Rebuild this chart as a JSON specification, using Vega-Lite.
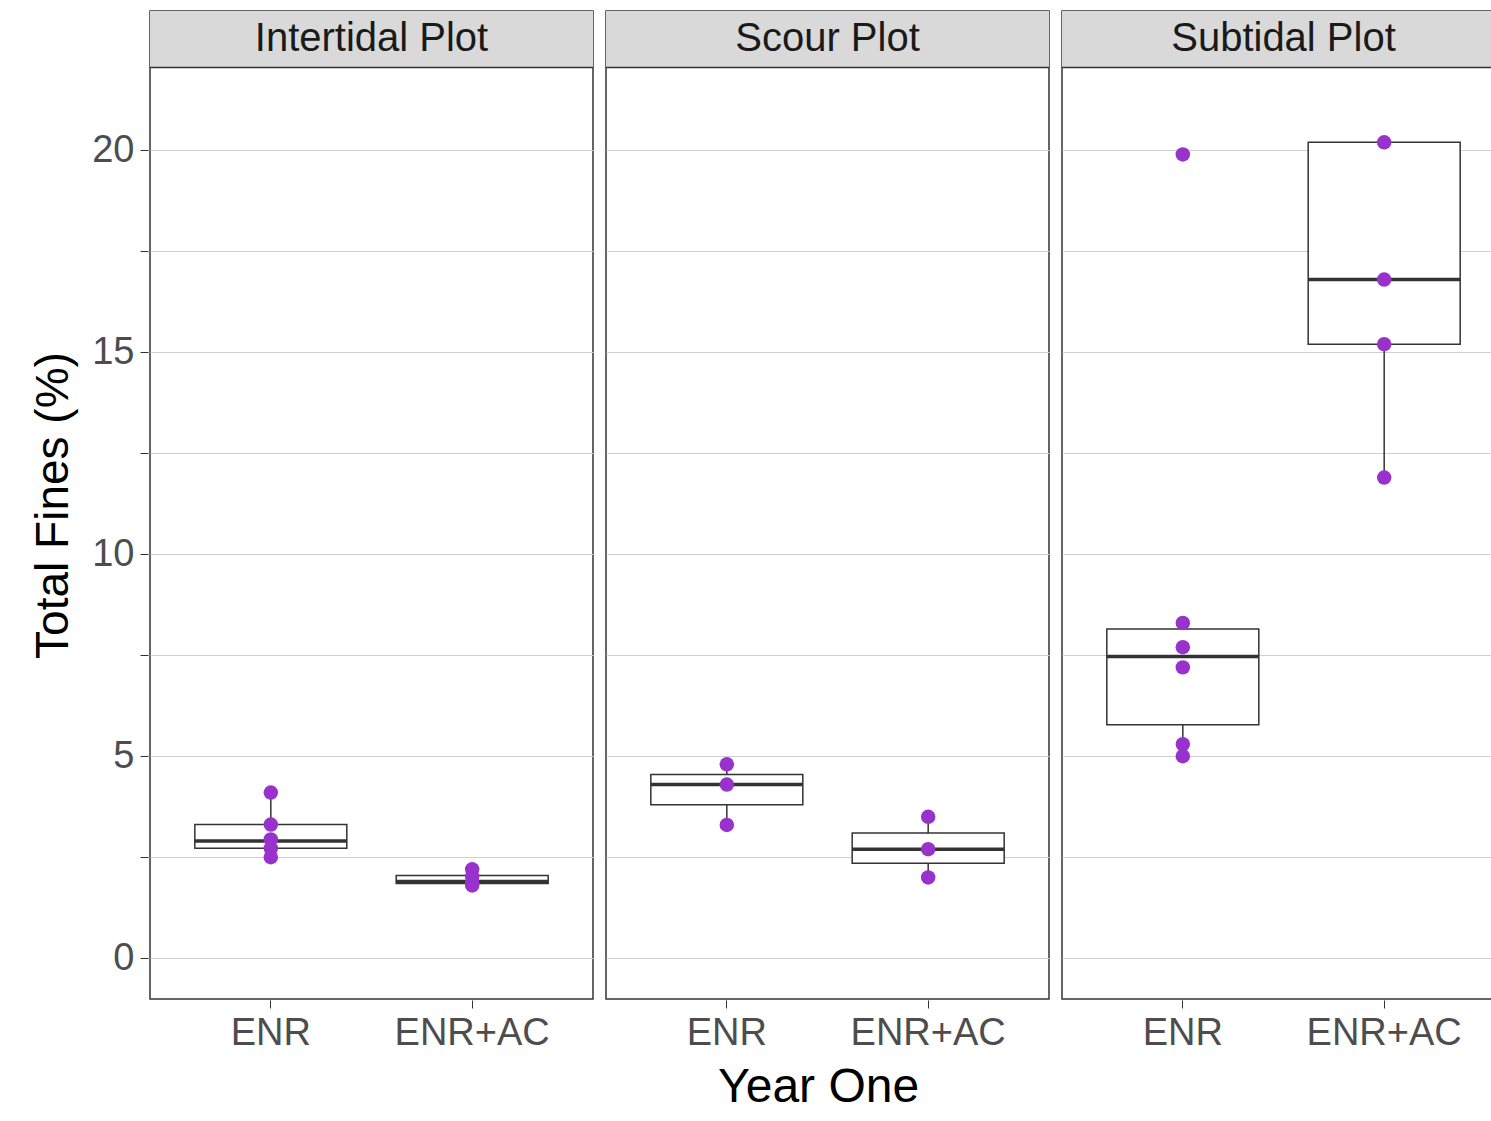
{
  "$schema": "https://vega.github.io/schema/vega-lite/v6.json",
  "padding": {"left": 30, "top": 10, "right": 0, "bottom": 5},
  "background": "white",
  "title": {"text": "Year One", "orient": "bottom", "fontSize": 48, "font": "Liberation Sans", "fontWeight": "normal", "color": "black", "offset": 12, "anchor": "middle", "dx": 50},
  "data": {
    "values": [
      {"plot": "Intertidal Plot", "kind": "pt", "treatment": "ENR", "fines": 4.1},
      {"plot": "Intertidal Plot", "kind": "pt", "treatment": "ENR", "fines": 3.31},
      {"plot": "Intertidal Plot", "kind": "pt", "treatment": "ENR", "fines": 2.94},
      {"plot": "Intertidal Plot", "kind": "pt", "treatment": "ENR", "fines": 2.72},
      {"plot": "Intertidal Plot", "kind": "pt", "treatment": "ENR", "fines": 2.5},
      {"plot": "Intertidal Plot", "kind": "pt", "treatment": "ENR+AC", "fines": 2.2},
      {"plot": "Intertidal Plot", "kind": "pt", "treatment": "ENR+AC", "fines": 2.02},
      {"plot": "Intertidal Plot", "kind": "pt", "treatment": "ENR+AC", "fines": 1.87},
      {"plot": "Intertidal Plot", "kind": "pt", "treatment": "ENR+AC", "fines": 1.8},
      {"plot": "Scour Plot", "kind": "pt", "treatment": "ENR", "fines": 4.8},
      {"plot": "Scour Plot", "kind": "pt", "treatment": "ENR", "fines": 4.3},
      {"plot": "Scour Plot", "kind": "pt", "treatment": "ENR", "fines": 3.3},
      {"plot": "Scour Plot", "kind": "pt", "treatment": "ENR+AC", "fines": 3.5},
      {"plot": "Scour Plot", "kind": "pt", "treatment": "ENR+AC", "fines": 2.7},
      {"plot": "Scour Plot", "kind": "pt", "treatment": "ENR+AC", "fines": 2.0},
      {"plot": "Subtidal Plot", "kind": "pt", "treatment": "ENR", "fines": 19.9},
      {"plot": "Subtidal Plot", "kind": "pt", "treatment": "ENR", "fines": 8.3},
      {"plot": "Subtidal Plot", "kind": "pt", "treatment": "ENR", "fines": 7.7},
      {"plot": "Subtidal Plot", "kind": "pt", "treatment": "ENR", "fines": 7.2},
      {"plot": "Subtidal Plot", "kind": "pt", "treatment": "ENR", "fines": 5.3},
      {"plot": "Subtidal Plot", "kind": "pt", "treatment": "ENR", "fines": 5.0},
      {"plot": "Subtidal Plot", "kind": "pt", "treatment": "ENR+AC", "fines": 20.2},
      {"plot": "Subtidal Plot", "kind": "pt", "treatment": "ENR+AC", "fines": 16.8},
      {"plot": "Subtidal Plot", "kind": "pt", "treatment": "ENR+AC", "fines": 15.2},
      {"plot": "Subtidal Plot", "kind": "pt", "treatment": "ENR+AC", "fines": 11.9},
      {"plot": "Intertidal Plot", "kind": "box", "treatment": "ENR", "lo": 2.5, "q1": 2.72, "med": 2.9, "q3": 3.31, "hi": 4.1},
      {"plot": "Intertidal Plot", "kind": "box", "treatment": "ENR+AC", "lo": 1.8, "q1": 1.85, "med": 1.9, "q3": 2.05, "hi": 2.2},
      {"plot": "Scour Plot", "kind": "box", "treatment": "ENR", "lo": 3.3, "q1": 3.8, "med": 4.3, "q3": 4.55, "hi": 4.8},
      {"plot": "Scour Plot", "kind": "box", "treatment": "ENR+AC", "lo": 2.0, "q1": 2.35, "med": 2.7, "q3": 3.1, "hi": 3.5},
      {"plot": "Subtidal Plot", "kind": "box", "treatment": "ENR", "lo": 5.0, "q1": 5.78, "med": 7.47, "q3": 8.15, "hi": 8.3},
      {"plot": "Subtidal Plot", "kind": "box", "treatment": "ENR+AC", "lo": 11.9, "q1": 15.2, "med": 16.8, "q3": 20.2, "hi": 20.2},
      {"plot": "Intertidal Plot", "kind": "strip", "lo": 22.05, "hi": 23.45, "mid": 22.75},
      {"plot": "Scour Plot", "kind": "strip", "lo": 22.05, "hi": 23.45, "mid": 22.75},
      {"plot": "Subtidal Plot", "kind": "strip", "lo": 22.05, "hi": 23.45, "mid": 22.75}
    ]
  },
  "facet": {
    "column": {"field": "plot", "type": "nominal", "header": {"title": null, "labels": false}}
  },
  "spacing": 9,
  "spec": {
    "width": 443,
    "height": 988,
    "layer": [
      {
        "transform": [{"filter": "datum.kind == 'box'"}],
        "mark": {"type": "rule", "color": "#333333", "strokeWidth": 1.5},
        "encoding": {
          "x": {"field": "treatment", "type": "nominal"},
          "y": {"field": "lo", "type": "quantitative"},
          "y2": {"field": "hi"}
        }
      },
      {
        "transform": [{"filter": "datum.kind == 'box'"}],
        "mark": {"type": "bar", "fill": "white", "stroke": "#333333", "strokeWidth": 1.5, "size": 152},
        "encoding": {
          "x": {"field": "treatment", "type": "nominal"},
          "y": {"field": "q1", "type": "quantitative"},
          "y2": {"field": "q3"}
        }
      },
      {
        "transform": [{"filter": "datum.kind == 'box'"}],
        "mark": {"type": "tick", "color": "#333333", "size": 152, "thickness": 3.5, "opacity": 1},
        "encoding": {
          "x": {"field": "treatment", "type": "nominal"},
          "y": {"field": "med", "type": "quantitative"}
        }
      },
      {
        "transform": [{"filter": "datum.kind == 'pt'"}],
        "mark": {"type": "circle", "size": 210, "color": "#9932CC", "opacity": 1},
        "encoding": {
          "x": {"field": "treatment", "type": "nominal"},
          "y": {"field": "fines", "type": "quantitative"}
        }
      },
      {
        "transform": [{"filter": "datum.kind == 'strip'"}],
        "mark": {"type": "rect", "color": "#d9d9d9"},
        "encoding": {
          "y": {"field": "lo", "type": "quantitative"},
          "y2": {"field": "hi"}
        }
      },
      {
        "transform": [{"filter": "datum.kind == 'strip'"}],
        "mark": {"type": "rule", "color": "#333333", "strokeWidth": 1.5},
        "encoding": {"y": {"field": "lo", "type": "quantitative"}}
      },
      {
        "transform": [{"filter": "datum.kind == 'strip'"}],
        "mark": {"type": "text", "fontSize": 40, "font": "Liberation Sans", "color": "#1a1a1a", "baseline": "middle", "align": "center"},
        "encoding": {
          "x": {"value": 221.5},
          "y": {"field": "mid", "type": "quantitative"},
          "text": {"field": "plot"}
        }
      }
    ],
    "encoding": {
      "x": {
        "type": "nominal",
        "scale": {"domain": ["ENR", "ENR+AC"], "paddingInner": 0, "paddingOuter": 0.1},
        "axis": {"title": null, "labelAngle": 0, "labelFontSize": 38, "labelColor": "#4d4d4d", "labelFont": "Liberation Sans", "labelPadding": 6, "tickColor": "#333333", "tickSize": 8, "domain": false, "grid": false}
      },
      "y": {
        "type": "quantitative",
        "scale": {"domain": [-1.01, 23.45], "nice": false, "zero": false},
        "axis": {
          "title": "Total Fines (%)", "titleFontSize": 46, "titleFont": "Liberation Sans", "titleFontWeight": "normal", "titleColor": "black", "titlePadding": 14,
          "values": [0, 2.5, 5, 7.5, 10, 12.5, 15, 17.5, 20],
          "labelExpr": "datum.value % 5 == 0 ? datum.label : ''",
          "labelFontSize": 38, "labelColor": "#4d4d4d", "labelFont": "Liberation Sans", "labelPadding": 6,
          "tickColor": "#333333", "tickSize": 8, "domain": false,
          "grid": true, "gridColor": "#cfcfcf", "gridWidth": 1.2
        }
      }
    }
  },
  "config": {
    "view": {"stroke": "#333333", "strokeWidth": 1.5}
  }
}
